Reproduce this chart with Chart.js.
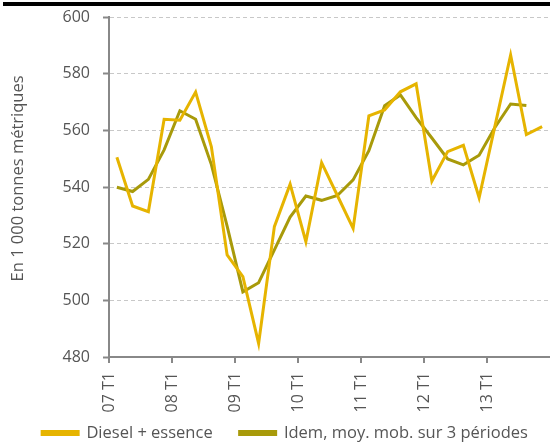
<!DOCTYPE html>
<html><head><meta charset="utf-8">
<script src="https://cdn.jsdelivr.net/npm/chart.js@4"></script>
<style>
html,body{margin:0;padding:0;background:#fff}
#wrap{position:relative;width:550px;height:444px}
#bar{position:absolute;left:3px;top:2px;width:547px;height:4px;background:#000}
</style>
</head><body>
<div id="wrap"><canvas id="c" width="550" height="444"></canvas><div id="bar"></div></div>
<script>
const quarters = [
  '07 T1','07 T2','07 T3','07 T4','08 T1','08 T2','08 T3','08 T4',
  '09 T1','09 T2','09 T3','09 T4','10 T1','10 T2','10 T3','10 T4',
  '11 T1','11 T2','11 T3','11 T4','12 T1','12 T2','12 T3','12 T4',
  '13 T1','13 T2','13 T3','13 T4'
];
const tickLabels = ['07 T1','08 T1','09 T1','10 T1','11 T1','12 T1','13 T1'];
const dieselEssence = [
  550.5, 533.3, 531.3, 563.9, 563.6, 573.5, 554.2, 516.0,
  508.4, 484.8, 526.0, 541.0, 520.7, 548.6, 537.0, 525.4,
  565.1, 567.2, 573.6, 576.4, 542.1, 552.5, 554.7, 536.2,
  561.4, 586.6, 558.5, 561.3
];
const moyMob3 = [
  539.9, 538.4, 542.7, 553.1, 566.9, 563.9, 547.9, 526.2,
  503.0, 506.2, 517.8, 529.4, 536.8, 535.3, 537.0, 542.5,
  552.8, 568.7, 572.5, 564.5, 557.3, 549.9, 547.8, 551.2,
  561.0, 569.3, 568.8
];

const TEXT = '#555555';
const LEGEND_PAD = 27;
const LEGEND_FONT = 16.5;
Chart.defaults.font.family = "'Open Sans', sans-serif";
Chart.defaults.color = TEXT;

const toPoints = arr => arr.map((v, i) => ({ x: i + 0.5, y: v }));

const legendTweak = {
  id: 'legendTweak',
  afterInit(chart) {
    const lg = chart.legend;
    if (!lg) return;
    const orig = lg.fit.bind(lg);
    lg.fit = function () { orig(); this.height = 20; };
  },
  afterLayout(chart) {
    const lg = chart.legend;
    if (!lg) return;
    lg.left += 10; lg.right += 10;
    lg.top = 433 - LEGEND_PAD - LEGEND_FONT / 2;
    lg.bottom = chart.height;
  }
};

new Chart(document.getElementById('c'), {
  type: 'line',
  data: {
    datasets: [
      { label: 'Diesel + essence', data: toPoints(dieselEssence),
        borderColor: '#E6B400', backgroundColor: '#E6B400',
        borderWidth: 3, pointRadius: 0, tension: 0 },
      { label: 'Idem, moy. mob. sur 3 périodes', data: toPoints(moyMob3),
        borderColor: '#A89A0A', backgroundColor: '#A89A0A',
        borderWidth: 3, pointRadius: 0, tension: 0 }
    ]
  },
  options: {
    responsive: false,
    animation: false,
    devicePixelRatio: 1,
    layout: { padding: { top: 17, right: 0, left: 0, bottom: 0 } },
    plugins: {
      legend: {
        position: 'bottom',
        labels: { boxWidth: 36, boxHeight: 3, padding: LEGEND_PAD, font: { size: LEGEND_FONT }, color: TEXT }
      },
      tooltip: { enabled: false }
    },
    scales: {
      x: {
        type: 'linear',
        min: 0, max: quarters.length,
        afterBuildTicks(scale) {
          scale.ticks = tickLabels.map((t, i) => ({ value: i * 4 }));
        },
        afterFit(scale) { scale.height = 67; },
        ticks: {
          autoSkip: false, minRotation: 90, maxRotation: 90,
          font: { size: 16 }, color: TEXT, padding: 9,
          callback: (v) => tickLabels[v / 4]
        },
        grid: { drawOnChartArea: false, drawTicks: true, tickLength: 6, color: '#888888', lineWidth: 2 },
        border: { display: true, color: '#888888', width: 2 }
      },
      y: {
        min: 480, max: 600,
        afterFit(scale) { scale.width = 109; },
        ticks: { stepSize: 20, font: { size: 16, lineHeight: 0.5 }, color: TEXT, padding: 13 },
        title: { display: true, text: '\u00a0\u00a0\u00a0\u00a0En 1 000 tonnes métriques', font: { size: 16.5 }, color: TEXT, padding: { top: 8, bottom: 0 } },
        grid: { color: '#c8c8c8', lineWidth: 1, tickLength: 6, tickColor: '#888888', tickWidth: 2, tickBorderDash: [] },
        border: { display: true, color: '#888888', width: 2, dash: [4, 3] }
      }
    }
  },
  plugins: [legendTweak]
});
</script>
</body></html>
